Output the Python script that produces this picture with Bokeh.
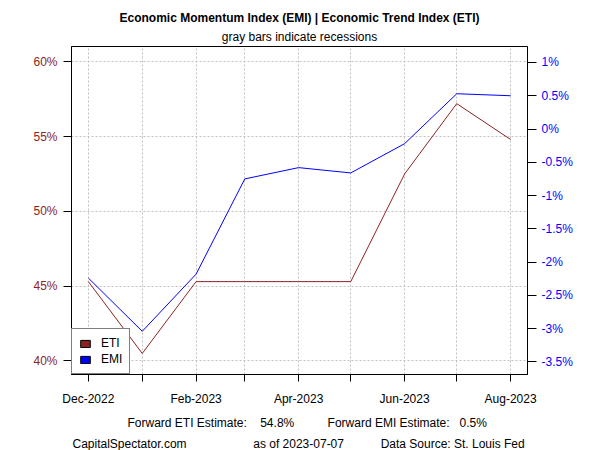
import datetime as dt
from bokeh.plotting import figure
from bokeh.models import (Range1d, LinearAxis, FixedTicker, CustomJSTickFormatter,
                          Legend, LegendItem, Title, ColumnDataSource)
from bokeh.embed import file_html
from bokeh.resources import INLINE

# ---- data ----
months = ["2022-12-01", "2023-01-01", "2023-02-01", "2023-03-01", "2023-04-01",
          "2023-05-01", "2023-06-01", "2023-07-01", "2023-08-01"]
eti = [45.3, 40.5, 45.3, 45.3, 45.3, 45.3, 52.5, 57.2, 54.8]          # % (left axis)
emi = [-2.24, -3.04, -2.18, -0.75, -0.58, -0.66, -0.22, 0.53, 0.50]   # % (right axis)
x_tick_labels = ["Dec-2022", "", "Feb-2023", "", "Apr-2023", "", "Jun-2023", "", "Aug-2023"]
left_ticks = [40, 45, 50, 55, 60]
right_ticks = [-3.5, -3.0, -2.5, -2.0, -1.5, -1.0, -0.5, 0.0, 0.5, 1.0]
as_of = "2023-07-07"

FONT = "Liberation Sans"
ETI_COL = "#8B2323"
EMI_COL = "#0000FF"
GRID = "#C0C0C0"
NB = "\u00a0"


def to_ms(s):
    d = dt.datetime.strptime(s, "%Y-%m-%d").replace(tzinfo=dt.timezone.utc)
    return d.timestamp() * 1000.0


x_ms = [to_ms(m) for m in months]
span = x_ms[-1] - x_ms[0]
pad = span * 0.04

src = ColumnDataSource(dict(x=x_ms, eti=eti, emi=emi))

p = figure(width=600, height=450, output_backend="svg", toolbar_location=None,
           title=None,
           x_range=Range1d(x_ms[0] - pad, x_ms[-1] + pad),
           y_range=Range1d(39.09, 61.02),
           min_border_left=71, min_border_right=73, min_border_top=46, min_border_bottom=76)
p.extra_y_ranges = {"emi": Range1d(-3.689, 1.24)}

p.background_fill_color = "white"
p.border_fill_color = "white"
p.outline_line_color = "black"
p.outline_line_width = 1

# x axis
xax = p.xaxis[0]
xax.ticker = FixedTicker(ticks=x_ms)
xax.formatter = CustomJSTickFormatter(args=dict(tvals=x_ms, tlabels=x_tick_labels), code="""
for (let i = 0; i < tvals.length; i++) {
  if (Math.abs(tvals[i] - tick) < 1000) { return tlabels[i]; }
}
return "";
""")
# left axis
yax = p.yaxis[0]
yax.ticker = FixedTicker(ticks=left_ticks)
yax.formatter = CustomJSTickFormatter(code="return tick.toFixed(0) + '%';")
yax.major_label_text_color = ETI_COL

# right axis
rax = LinearAxis(y_range_name="emi")
rax.ticker = FixedTicker(ticks=right_ticks)
rax.formatter = CustomJSTickFormatter(code="""
const s = (Math.round(tick*10)/10).toString();
return s + '%';
""")
rax.major_label_text_color = EMI_COL
p.add_layout(rax, "right")

for ax, tout, stand in [(xax, 7, 10), (yax, 8, 6), (rax, 9, 5)]:
    ax.major_tick_out = tout
    ax.major_tick_in = 0
    ax.minor_tick_line_color = None
    ax.major_tick_line_color = "black"
    ax.axis_line_color = "black"
    ax.major_label_standoff = stand
    ax.major_label_text_font = FONT
    ax.major_label_text_font_size = "12px"
xax.major_label_text_color = "black"

# grid
p.xgrid.grid_line_color = GRID
p.xgrid.grid_line_dash = "2 2"
p.xgrid.ticker = FixedTicker(ticks=x_ms)
p.ygrid.grid_line_color = GRID
p.ygrid.grid_line_dash = "2 2"
p.ygrid.ticker = FixedTicker(ticks=left_ticks)

# lines
p.line("x", "eti", source=src, line_color=ETI_COL, line_width=1)
p.line("x", "emi", source=src, line_color=EMI_COL, line_width=1, y_range_name="emi")

# legend (filled boxes; renderers hold a single undrawn NaN row)
nan = float("nan")
r_eti = p.quad(left=[nan], right=[nan], top=[nan], bottom=[nan], fill_color=ETI_COL, line_color="black")
r_emi = p.quad(left=[nan], right=[nan], top=[nan], bottom=[nan], fill_color=EMI_COL, line_color="black")
leg = Legend(items=[LegendItem(label="ETI", renderers=[r_eti]),
                    LegendItem(label="EMI", renderers=[r_emi])],
             location="bottom_left", margin=0, padding=7, spacing=2,
             glyph_width=12, glyph_height=9, label_height=14, label_standoff=10,
             label_text_font=FONT, label_text_font_size="12px", label_text_color="black",
             border_line_color="black", border_line_width=1,
             background_fill_color="white", background_fill_alpha=1)
p.add_layout(leg, "center")


# texts as titles in the side panels (offset measured from frame left)
def title(text, where, offset, standoff, align="left", bold=False):
    p.add_layout(Title(text=text, align=align, offset=offset, standoff=standoff,
                       text_font=FONT, text_font_size="12px",
                       text_font_style="bold" if bold else "normal",
                       text_color="black"), where)


title("gray bars indicate recessions", "above", 0, 6, "center")
title("Economic Momentum Index (EMI) | Economic Trend Index (ETI)", "above", 0, 0, "center", True)
line1 = ("Forward ETI Estimate:" + NB * 4 + f"{eti[-1]:.1f}%" + NB * 10 +
         "Forward EMI Estimate:" + NB * 3 + f"{emi[-1]:.1f}%")
line2 = "CapitalSpectator.com" + NB * 20 + f"as of {as_of}" + NB * 11 + "Data Source: St. Louis Fed"
title(line1, "below", 56, 10)
title(line2, "below", 1, 0)

open("out.html", "w").write(file_html(p, INLINE))
